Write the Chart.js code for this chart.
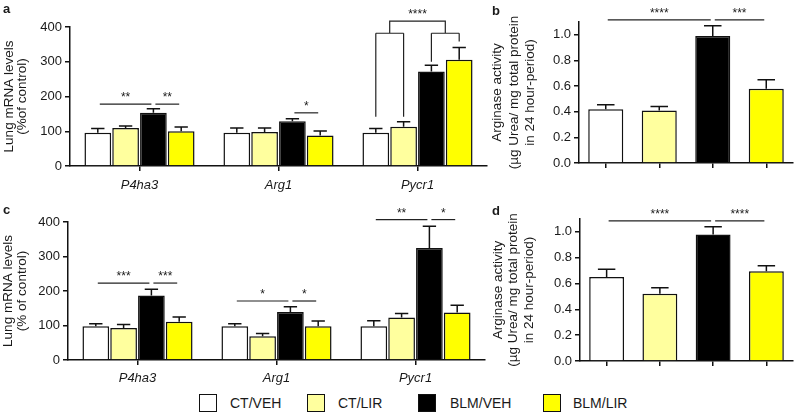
<!DOCTYPE html>
<html><head><meta charset="utf-8">
<script src="https://cdn.jsdelivr.net/npm/chart.js@4"></script>
<style>
body{margin:0;width:796px;height:413px;background:#fff;position:relative;overflow:hidden;font-family:"Liberation Sans",Arial,sans-serif;color:#1a1a1a;}
canvas{position:absolute;}
.pl{position:absolute;font-weight:bold;font-size:13px;line-height:13px;}
.box{position:absolute;top:394px;width:16px;height:16px;border:1.5px solid #111;}
.lt{position:absolute;top:395px;font-size:14px;line-height:16px;}
</style></head>
<body>
<canvas id="ca" width="492" height="200" style="left:0;top:0"></canvas>
<canvas id="cb" width="306" height="200" style="left:490px;top:0"></canvas>
<canvas id="cc" width="492" height="195" style="left:0;top:195px"></canvas>
<canvas id="cd" width="306" height="195" style="left:490px;top:195px"></canvas>
<div class="pl" style="left:3px;top:2px">a</div>
<div class="pl" style="left:492px;top:4px">b</div>
<div class="pl" style="left:3px;top:203px">c</div>
<div class="pl" style="left:492px;top:204px">d</div>
<div id="legend"></div>
<script>
// ---------- data ----------
const groups = ['CT/VEH', 'CT/LIR', 'BLM/VEH', 'BLM/LIR'];
const genes = ['P4ha3', 'Arg1', 'Pycr1'];
const groupColors = ['#ffffff', '#ffff9e', '#000000', '#ffff00'];

// panel a: lung mRNA levels (% of control), per gene
const aCTVEH  = [96, 96, 96];
const aCTLIR  = [109, 98, 113];
const aBLMVEH = [153, 129, 272];
const aBLMLIR = [100, 88, 306];
const aErrCTVEH  = [108, 109, 108];
const aErrCTLIR  = [115, 109, 127];
const aErrBLMVEH = [165, 136, 290];
const aErrBLMLIR = [112, 101, 341];

// panel b: arginase activity per group
const bValues = [0.42, 0.41, 0.99, 0.58];
const bErr    = [0.455, 0.44, 1.07, 0.65];

// panel c: lung mRNA levels (% of control), per gene
const cCTVEH  = [98, 98, 98];
const cCTLIR  = [93, 69, 123];
const cBLMVEH = [187, 139, 325];
const cBLMLIR = [111, 98, 138];
const cErrCTVEH  = [105, 105, 114];
const cErrCTLIR  = [103, 77, 135];
const cErrBLMVEH = [205, 154, 388];
const cErrBLMLIR = [125, 113, 159];

// panel d: arginase activity per group
const dValues = [0.65, 0.52, 0.98, 0.695];
const dErr    = [0.71, 0.567, 1.04, 0.737];

const mrnaTicks = [0, 100, 200, 300, 400];
const argTicks = [0, 0.2, 0.4, 0.6, 0.8, 1.0];

// significance marks: [gene, fromGroup, toGroup, level, stars]
const aSig = [[0, 0, 2, 178, '**'], [0, 2, 3, 178, '**'], [1, 2, 3, 153, '*']];
const cSig = [[0, 0, 2, 223, '***'], [0, 2, 3, 223, '***'], [1, 0, 2, 171, '*'], [1, 2, 3, 171, '*'], [2, 0, 2, 407, '**'], [2, 2, 3, 407, '*']];
const bSig = [[0, 0, 2, 1.117, '****'], [0, 2, 3, 1.117, '***']];
const dSig = [[0, 0, 2, 1.085, '****'], [0, 2, 3, 1.085, '****']];
// bracket in panel a (Pycr1): legs end levels for each group, bracket level, top level
const aBracketLegs = [142, 142, 300, 358];
const aBracketLevels = [382, 417];
const aBracketStars = '****';

const yTitleMrnaA = ['Lung mRNA levels', '(%of control)'];
const yTitleMrnaC = ['Lung mRNA levels', '(% of control)'];
const yTitleArg = ['Arginase activity', '(µg Urea/ mg total protein', 'in 24 hour-period)'];

// ---------- rendering ----------
const FONT = '"Liberation Sans", Arial, sans-serif';
const INK = '#1a1a1a';
Chart.defaults.font.family = FONT;
Chart.defaults.color = INK;

function drawErr(chart, errs) {
  const ctx = chart.ctx;
  ctx.save();
  ctx.strokeStyle = '#111'; ctx.lineWidth = 1.5;
  chart.data.datasets.forEach((ds, di) => {
    const meta = chart.getDatasetMeta(di);
    meta.data.forEach((bar, i) => {
      const e = errs[di][i];
      const y = chart.scales.y.getPixelForValue(e);
      const half = bar.width / 4;
      ctx.beginPath();
      ctx.moveTo(bar.x, bar.y); ctx.lineTo(bar.x, y);
      ctx.moveTo(bar.x - half, y); ctx.lineTo(bar.x + half, y);
      ctx.stroke();
    });
  });
  ctx.restore();
}
function starText(ctx, s, x, y) {
  ctx.save();
  ctx.font = '12px ' + FONT; ctx.fillStyle = INK; ctx.textAlign = 'center'; ctx.textBaseline = 'alphabetic';
  ctx.fillText(s, x, y + 3);
  ctx.restore();
}
function barX(chart, grouped, gene, grp) {
  if (grouped) return chart.getDatasetMeta(grp).data[gene].x;
  return chart.getDatasetMeta(0).data[grp].x;
}
function drawSig(chart, sigs, grouped) {
  const ctx = chart.ctx;
  ctx.save();
  ctx.strokeStyle = '#222'; ctx.lineWidth = 1.2;
  sigs.forEach(([g, f, t, lvl, s]) => {
    const x1 = barX(chart, grouped, g, f) + 2, x2 = barX(chart, grouped, g, t) - 2;
    const y = chart.scales.y.getPixelForValue(lvl);
    ctx.beginPath(); ctx.moveTo(x1, y); ctx.lineTo(x2, y); ctx.stroke();
    starText(ctx, s, (x1 + x2) / 2, y - 6);
  });
  ctx.restore();
}
function drawBracket(chart) {
  const ctx = chart.ctx, ys = chart.scales.y;
  const xs = [0, 1, 2, 3].map(k => barX(chart, true, 2, k));
  const yb = ys.getPixelForValue(aBracketLevels[0]);
  const yt = ys.getPixelForValue(aBracketLevels[1]);
  ctx.save(); ctx.strokeStyle = '#222'; ctx.lineWidth = 1.2;
  ctx.beginPath();
  [0, 1, 2, 3].forEach(k => { ctx.moveTo(xs[k], ys.getPixelForValue(aBracketLegs[k])); ctx.lineTo(xs[k], yb); });
  ctx.moveTo(xs[0], yb); ctx.lineTo(xs[1], yb);
  ctx.moveTo(xs[2], yb); ctx.lineTo(xs[3], yb);
  const m1 = (xs[0] + xs[1]) / 2, m2 = (xs[2] + xs[3]) / 2;
  ctx.moveTo(m1, yb); ctx.lineTo(m1, yt); ctx.lineTo(m2, yt); ctx.lineTo(m2, yb);
  ctx.stroke(); ctx.restore();
  starText(ctx, aBracketStars, (m1 + m2) / 2, yt - 6);
}
function drawYTitle(chart, lines, xs, size) {
  const ctx = chart.ctx, ca = chart.chartArea;
  const yc = (ca.top + ca.bottom) / 2;
  ctx.save();
  ctx.font = size + 'px ' + FONT; ctx.fillStyle = INK; ctx.textAlign = 'center'; ctx.textBaseline = 'middle';
  lines.forEach((l, i) => {
    ctx.save(); ctx.translate(xs[i], yc); ctx.rotate(-Math.PI / 2); ctx.fillText(l, 0, 0); ctx.restore();
  });
  ctx.restore();
}

function axisCommon(extra) {
  return Object.assign({
    grid: { drawOnChartArea: false, offset: false, tickLength: 5, color: '#111', lineWidth: 1.5 },
    border: { color: '#111', width: 1.5 }
  }, extra);
}

function makeMrna(id, sets, errs, sigs, opts) {
  new Chart(document.getElementById(id), {
    type: 'bar',
    data: {
      labels: genes,
      datasets: groups.map((g, i) => ({
        label: g, data: sets[i], backgroundColor: groupColors[i],
        borderColor: '#111', borderWidth: 1.5,
        categoryPercentage: 0.8, barPercentage: 0.96
      }))
    },
    options: {
      responsive: false, animation: false, devicePixelRatio: 1,
      layout: { padding: { top: opts.top, right: opts.right, left: 0, bottom: 0 } },
      plugins: { legend: { display: false }, tooltip: { enabled: false } },
      scales: {
        x: axisCommon({
          ticks: { font: { size: 13, style: 'italic' }, color: INK, padding: opts.xpad, maxRotation: 0 },
          afterFit(s) { s.height = opts.xh; }
        }),
        y: axisCommon({
          min: 0, max: 400,
          afterBuildTicks(s) { s.ticks = mrnaTicks.map(v => ({ value: v })); },
          ticks: { font: { size: 13 }, color: INK, padding: 3 },
          afterFit(s) { s.width = opts.yw; }
        })
      }
    },
    plugins: [{
      id: 'extras',
      afterDatasetsDraw(chart) { drawErr(chart, errs); },
      afterDraw(chart) {
        drawSig(chart, sigs, true);
        if (opts.bracket) drawBracket(chart);
        drawYTitle(chart, opts.title, opts.tx, 13.5);
      }
    }]
  });
}

function makeArg(id, vals, errs, sigs, opts) {
  new Chart(document.getElementById(id), {
    type: 'bar',
    data: {
      labels: groups,
      datasets: [{
        data: vals, backgroundColor: groupColors, borderColor: '#111', borderWidth: 1.5,
        categoryPercentage: 1, barPercentage: 0.655
      }]
    },
    options: {
      responsive: false, animation: false, devicePixelRatio: 1,
      layout: { padding: { top: opts.top, right: opts.right, left: 0, bottom: 0 } },
      plugins: { legend: { display: false }, tooltip: { enabled: false } },
      scales: {
        x: axisCommon({
          ticks: { callback: () => '', maxRotation: 0 },
          afterFit(s) { s.height = opts.xh; }
        }),
        y: axisCommon({
          min: 0, max: 1.1,
          afterBuildTicks(s) { s.ticks = argTicks.map(v => ({ value: v })); },
          ticks: { font: { size: 13 }, color: INK, padding: 3, callback: v => Number(v).toFixed(1) },
          afterFit(s) { s.width = opts.yw; }
        })
      }
    },
    plugins: [{
      id: 'extras',
      afterDatasetsDraw(chart) { drawErr(chart, [errs]); },
      afterDraw(chart) {
        drawSig(chart, sigs, false);
        drawYTitle(chart, yTitleArg, opts.tx, 13.5);
      }
    }]
  });
}

makeMrna('ca', [aCTVEH, aCTLIR, aBLMVEH, aBLMLIR], [aErrCTVEH, aErrCTLIR, aErrBLMVEH, aErrBLMLIR], aSig,
  { top: 27, right: 5, xh: 34, yw: 70, xpad: 7, bracket: true, title: yTitleMrnaA, tx: [9, 22] });
makeArg('cb', bValues, bErr, bSig, { top: 22, right: 3, xh: 37, yw: 89, tx: [7, 24, 40] });
makeMrna('cc', [cCTVEH, cCTLIR, cBLMVEH, cBLMLIR], [cErrCTVEH, cErrCTLIR, cErrBLMVEH, cErrBLMLIR], cSig,
  { top: 27, right: 7, xh: 30, yw: 68, xpad: 6, bracket: false, title: yTitleMrnaC, tx: [8, 22] });
makeArg('cd', dValues, dErr, dSig, { top: 24, right: 3, xh: 29, yw: 90, tx: [8, 23, 39] });

// legend
const legBoxX = [199, 307, 418, 543];
const legTextX = [230, 338, 450, 573];
const leg = document.getElementById('legend');
groups.forEach((g, i) => {
  const b = document.createElement('div'); b.className = 'box';
  b.style.left = legBoxX[i] + 'px'; b.style.background = groupColors[i]; leg.appendChild(b);
  const t = document.createElement('div'); t.className = 'lt';
  t.style.left = legTextX[i] + 'px'; t.textContent = g; leg.appendChild(t);
});
</script>
</body></html>
